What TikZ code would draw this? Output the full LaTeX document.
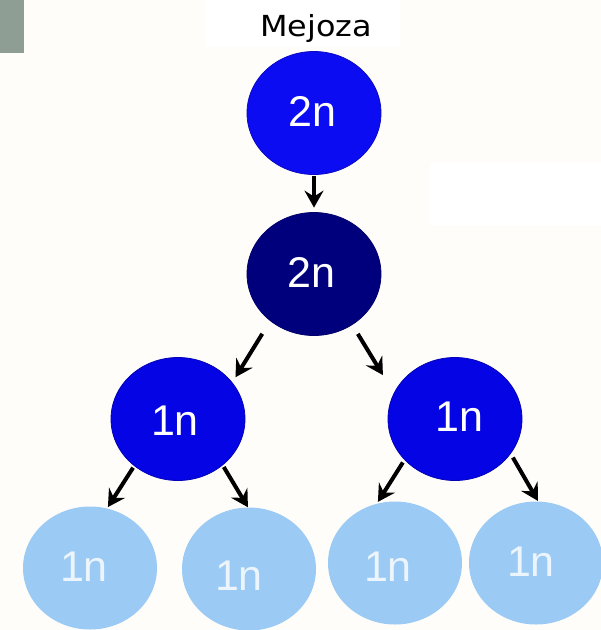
\documentclass[tikz,border=0pt]{standalone}
\usepackage{fontspec}
\setmainfont{Liberation Sans}
\newfontfamily\titlefont{DejaVu Sans}
\usetikzlibrary{arrows.meta,shapes.geometric}

\definecolor{paper}{RGB}{255,253,250}
\definecolor{tabgray}{RGB}{143,158,148}
\definecolor{topblue}{RGB}{12,12,242}
\definecolor{navy}{RGB}{0,0,125}
\definecolor{midblue}{RGB}{4,4,228}
\definecolor{paleblue}{RGB}{155,203,245}
\definecolor{paletext}{RGB}{236,244,252}

\tikzset{
  cell/.style={ellipse, inner sep=0pt, minimum width=134pt, minimum height=123pt},
  cell2n/.style={cell, fill=topblue, draw=topblue!80!black, line width=0.8pt},
  cellnavy/.style={cell, fill=navy, draw=navy!85!black, line width=0.8pt},
  cell1n/.style={cell, fill=midblue, draw=midblue!80!black, line width=0.8pt},
  cellpale/.style={cell, fill=paleblue},
  ploidy/.style={anchor=base, inner sep=0pt, text=white, font=\fontsize{43}{43}\selectfont},
  paleploidy/.style={ploidy, text=paletext},
  arr/.style={-{Stealth[length=17pt,width=19pt,inset=6pt]}, line width=4pt, black}
}

\begin{document}
\begin{tikzpicture}[x=1pt,y=-1pt]
  \useasboundingbox (0,0) rectangle (601,630);
  \fill[paper] (0,0) rectangle (601,630);
  \fill[white] (205,0) rectangle (400,47);
  \fill[white] (430,163) rectangle (601,225);
  \fill[tabgray] (0,0) rectangle (24,53);

  % title
  \node[anchor=base, inner sep=0pt, font=\titlefont\fontsize{29}{29}\selectfont] (title) at (316,36)
    {\scalebox{1.1}[1]{Mejoza}};

  % cells
  \node[cell2n]   (T)  at (314,113) {};
  \node[cellnavy] (D)  at (314,274) {};
  \node[cell1n]   (L)  at (178,419) {};
  \node[cell1n]   (R)  at (455,419) {};
  \node[cellpale] (B1) at (90,568)  {};
  \node[cellpale] (B2) at (249,569) {};
  \node[cellpale] (B3) at (395,563) {};
  \node[cellpale] (B4) at (536,563) {};

  % labels
  \node[ploidy] (Tl) at (312.5,126) {2n};
  \node[ploidy] (Dl) at (311.7,287) {2n};
  \node[ploidy] (Ll) at (175,435.5) {1n};
  \node[ploidy] (Rl) at (459.7,431.5) {1n};
  \node[paleploidy] (B1l) at (84,581.5) {1n};
  \node[paleploidy] (B2l) at (239,590) {1n};
  \node[paleploidy] (B3l) at (388,581.5) {1n};
  \node[paleploidy] (B4l) at (531,576.5) {1n};

  % divisions
  \draw[arr, shorten <=1.5pt, shorten >=4.5pt] (T.south) -- (D.north);
  \draw[arr, shorten <=15pt, shorten >=6pt] (D.-133.7) -- (L.34.4);
  \draw[arr, shorten <=10.5pt, shorten >=21pt] (D.-53.7) -- (R.157.5);
  \draw[arr, shorten <=2pt, shorten >=1.5pt] (L.-133.5) -- (B1.74.8);
  \draw[arr, shorten <=2pt] (L.-46.5) -- (B2.91.8);
  \draw[arr, shorten <=3pt, shorten >=2pt] (R.-141.2) -- (B3.107.1);
  \draw[arr, shorten <=4.3pt, shorten >=0.5pt] (R.-32.8) -- (B4.88.1);
\end{tikzpicture}
\end{document}
